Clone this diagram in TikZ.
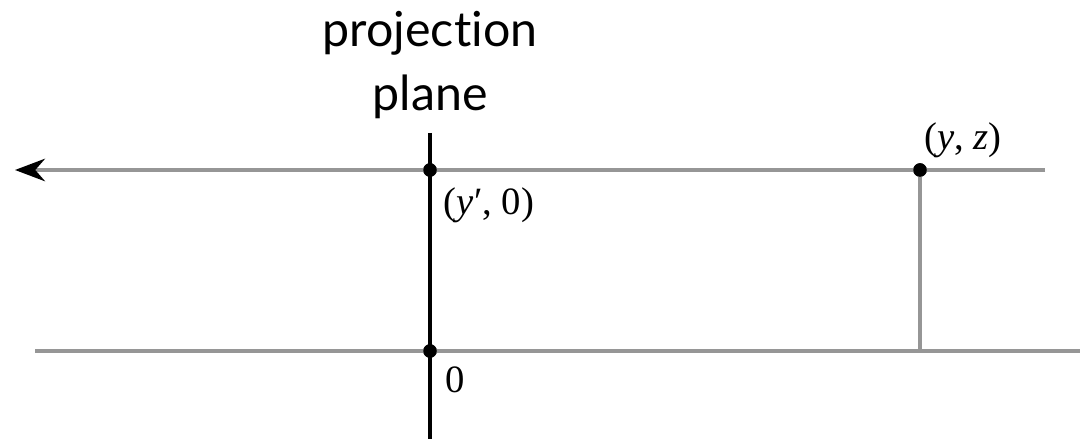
\documentclass[tikz,border=0pt]{standalone}
\usepackage{fontspec}
\setmainfont{Liberation Serif}
\newfontfamily\titlefont[Ligatures={NoCommon, NoDiscretionary}]{Lato}
\usepackage{xcolor}
\usetikzlibrary{arrows.meta, positioning}
\definecolor{axisgray}{RGB}{150, 150, 150}
\tikzstyle{axis} = [draw=axisgray, line width=2pt]
\tikzstyle{plane} = [draw=black, line width=1.8pt]
\tikzstyle{dot} = [circle, fill=black, inner sep=0pt, minimum size=0.27cm]
\tikzstyle{lbl} = [font=\fontsize{22}{26}\selectfont, inner sep=0pt]
\tikzstyle{arrow} = [-{Stealth[length=0.6cm, width=0.45cm, black]}]

\begin{document}
\begin{tikzpicture}
    \useasboundingbox (0, 0) rectangle (21.6, 8.78);

    % Title
    \node[font=\titlefont\fontsize{27.5}{36}\selectfont, align=center] (title) at (8.6, 7.48) {projection\\plane};

    % Points
    \node[dot] (img) at (8.6, 5.38) {};
    \node[dot] (origin) at (8.6, 1.76) {};
    \node[dot] (pt) at (18.4, 5.38) {};

    % Line ends
    \coordinate (planetop) at (8.6, 6.12);
    \coordinate (planebot) at (8.6, 0);
    \coordinate (rayleft) at (0.3, 5.38);
    \coordinate (rayright) at (20.9, 5.38);
    \coordinate (baseleft) at (0.7, 1.76);
    \coordinate (baseright) at (21.6, 1.76);

    % Lines
    \draw[axis, arrow] (rayright) -- (rayleft);
    \draw[axis] (baseleft) -- (baseright);
    \draw[axis] (pt) -- (pt |- origin);
    \draw[plane] (planetop) -- (planebot);

    % Redraw dots on top
    \node[dot] at (img) {};
    \node[dot] at (origin) {};
    \node[dot] at (pt) {};

    % Labels
    \node[lbl] (ptlbl) at (19.26, 5.98) {(\textit{y}, \textit{z})};
    \node[lbl] (imglbl) at (9.78, 4.68) {(\textit{y}′, 0)};
    \node[lbl] (originlbl) at (9.1, 1.18) {0};
\end{tikzpicture}
\end{document}
